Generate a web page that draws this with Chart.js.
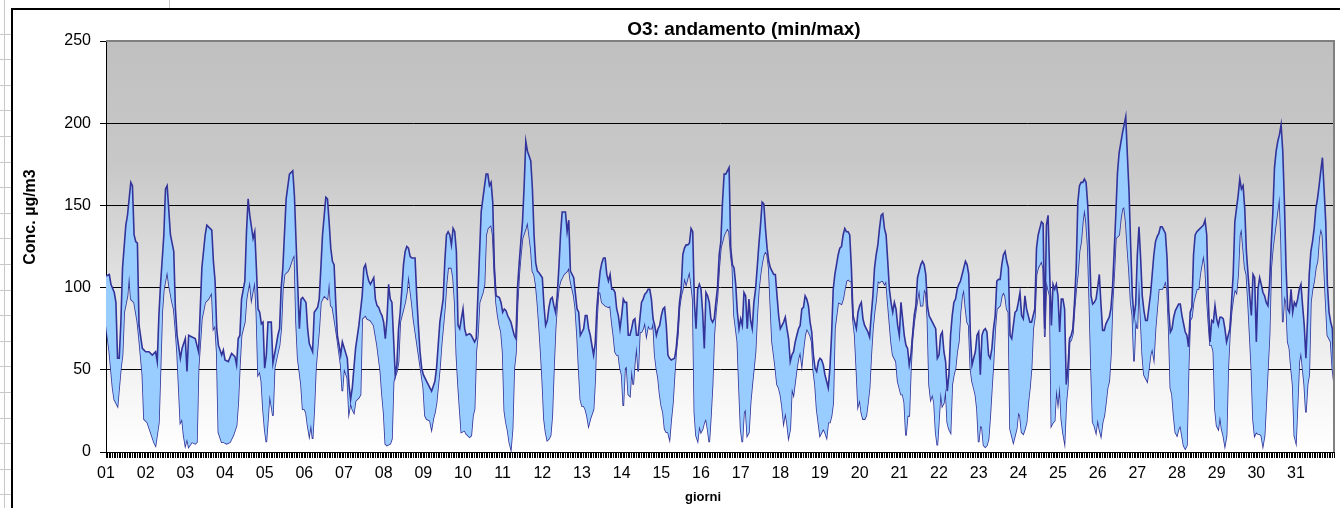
<!DOCTYPE html>
<html>
<head>
<meta charset="utf-8">
<script src="https://cdn.jsdelivr.net/npm/chart.js@4.4.0/dist/chart.umd.min.js"></script>
<style>
  html, body { margin: 0; padding: 0; background: #fff; }
  #wrap { width: 1340px; height: 508px; }
</style>
</head>
<body>
<div id="wrap"><canvas id="chart" width="1340" height="508"></canvas></div>
<script>
// ora del mese (0 = 01 ore 00) e valore massimo orario O3 (µg/m3)
const maxHours = [
  0,2,3,5,6,7,8,9,10,12,13,15,16,17,18,19,20,22,24,26,28,30,31,32,33,35,36,37,39,41,42,43,45,46,48,49,50,52,54,55,56,58,60,61,64,65,66,67,68,70,
  71,72,74,76,78,79,80,81,82,84,85,86,87,89,90,91,92,93,94,95,96,97,98,100,101,103,104,105,106,107,109,111,113,114,115,117,118,119,121,122,123,125,126,128,129,130,131,133,134,135,136,137,138,139,140,142,143,
  146,147,148,149,150,151,153,155,156,157,158,159,160,162,163,164,165,166,167,168,169,170,171,172,173,174,175,176,177,178,179,180,181,182,183,184,185,187,188,189,190,191,192,194,196,197,199,200,202,204,205,206,207,208,209,210,211,212,213,214,215,216,217,218,220,
  221,222,223,224,225,227,228,230,231,232,233,234,235,236,238,239,240,241,242,243,245,246,247,248,249,250,251,252,253,254,255,256,257,258,259,260,261,262,264,265,266,267,268,269,270,271,272,273,274,275,276,278,279,280,281,283,285,286,287,288,289,290,291,292,293,295,
  296,297,298,299,300,301,302,303,304,305,306,307,308,309,310,311,312,313,314,315,316,317,318,319,320,321,322,323,324,325,326,327,328,329,330,331,332,333,334,335,336,337,338,339,340,341,342,
  344,345,346,347,348,349,350,351,352,353,354,355,356,357,358,359,360,361,362,363,364,365,366,367,368,369,
  370,371,372,373,374,375,376,377,378,379,380,381,382,383,384,385,386,387,388,389,390,391,392,393,394,395,396,397,398,399,
  400,401,402,403,404,405,406,407,408,409,410,411,412,413,414,415,416,417,418,419,420,421,422,423,424,425,426,427,428,429,
  430,431,432,433,434,435,436,437,438,439,440,441,442,443,444,
  445,446,447,448,449,450,451,452,453,454,455,456,457,458,459,460,461,462,463,464,465,466,467,468,469,470,471,472,473,474,
  475,476,477,478,479,480,481,482,483,484,485,486,487,488,489,490,491,492,493,494,495,496,497,498,499,500,501,502,503,504,
  505,506,507,508,509,510,511,512,513,514,515,516,517,518,519,
  520,521,522,523,524,525,526,527,528,529,530,531,532,533,534,535,536,537,538,539,540,541,542,543,544,545,546,547,548,549,
  550,551,552,553,554,555,556,557,558,559,560,561,562,563,564,565,566,567,568,569,570,571,572,573,574,575,576,577,578,579,
  580,581,582,583,584,585,586,587,588,589,590,591,592,593,594,
  595,596,597,598,599,600,601,602,603,604,605,606,607,608,609,610,611,612,613,614,615,616,617,618,619,620,621,622,623,624,
  625,626,627,628,629,630,631,632,633,634,635,636,637,638,639,640,641,642,643,644,645,646,647,648,649,650,651,652,653,654,
  655,656,657,658,659,660,661,662,663,664,665,666,667,668,
  669,670,671,672,673,674,675,676,677,678,679,680,681,682,683,684,685,686,687,688,689,690,691,692,693,694,695,696,697,698,
  699,700,701,702,703,704,705,706,707,708,709,710,711,712,713,714,715,716,717,718,719,720,721,722,723,724,725,726,727,728,
  729,730,731,732,733,734,735,736,737,738,739,740,741,742,743
];
const maxVals = [
  107,108,102,97,91,57,57,79,112,138,144,164,162,132,128,127,77,63,61,61,59,61,55,83,102,132,160,162,132,122,87,71,57,63,69,49,71,70,69,65,61,112,132,138,135,116,104,75,65,59,
  62,56,55,60,58,53,69,71,93,104,134,154,144,130,134,112,87,85,78,79,51,59,79,79,54,65,71,75,100,112,154,169,171,156,128,75,93,94,91,75,66,61,85,88,93,112,132,155,154,140,124,116,114,91,71,59,67,
  57,41,32,39,51,63,77,95,112,114,108,104,102,106,93,89,88,85,83,79,69,81,102,93,91,69,47,53,75,85,99,114,122,125,124,119,118,118,95,77,61,51,47,43,39,37,43,51,79,93,116,132,134,132,126,136,134,122,77,75,81,87,75,71,72,
  71,69,67,69,95,146,154,169,169,162,164,152,112,95,94,91,85,87,86,83,79,75,71,69,100,115,128,140,162,189,183,180,177,160,132,115,110,109,106,89,77,80,88,93,94,89,85,95,112,132,146,146,134,141,110,106,87,85,71,73,75,83,83,75,71,59,
  66,88,100,110,115,118,118,108,104,108,99,99,97,87,83,75,83,93,91,91,71,71,75,80,81,71,71,81,91,93,96,97,99,99,93,81,77,71,75,77,83,87,88,77,59,57,56,
  57,63,75,91,99,120,124,126,126,127,136,134,91,75,99,102,99,85,63,97,95,91,81,79,81,91,
  100,120,128,152,169,169,171,173,124,114,112,102,85,75,81,77,97,95,75,93,80,75,91,99,112,126,138,152,151,136,
  124,116,112,110,108,108,95,83,75,77,79,82,75,69,55,59,61,67,71,75,77,87,88,95,93,89,79,73,59,51,
  49,55,57,56,53,47,43,39,51,71,99,108,114,120,124,
  125,132,136,134,134,132,112,83,79,75,85,89,91,81,77,75,73,70,83,95,112,120,126,136,144,145,136,132,116,99,
  91,85,91,87,77,71,91,81,71,65,63,53,59,71,83,89,106,110,114,116,114,108,89,83,81,79,77,75,57,59,
  71,73,61,55,37,47,71,83,91,93,99,102,104,108,112,
  116,114,108,71,53,57,61,71,73,47,71,74,75,73,59,57,63,75,83,104,105,105,114,120,122,116,112,71,69,77,
  85,86,91,97,83,81,95,87,83,79,79,83,87,124,132,136,140,139,75,138,144,108,77,102,99,102,95,73,93,93,
  87,41,51,69,71,75,91,112,152,162,164,164,166,164,150,
  125,95,90,91,93,100,108,90,74,74,78,80,82,87,100,122,145,170,182,188,194,199,204,180,158,125,95,82,90,120,
  137,118,95,86,80,80,88,96,108,120,128,131,133,137,137,135,133,118,86,73,75,82,86,88,90,90,83,78,73,71,
  64,85,88,120,132,134,135,136,137,138,141,132,91,67,
  80,79,89,81,77,82,82,81,75,67,71,75,91,108,140,148,156,166,160,162,148,122,108,95,83,108,106,67,99,106,
  102,97,95,91,89,102,126,146,173,183,189,193,199,183,152,112,87,85,99,85,91,89,93,99,102,89,77,57,81,108,
  122,128,136,148,154,162,171,179,160,140,102,85,79,75,44
];

// ora del mese e valore minimo orario O3 (µg/m3)
const minHours = [
  0,2,4,5,7,9,10,11,13,14,15,17,19,20,22,23,25,27,29,30,32,33,34,35,37,38,40,41,42,43,45,46,47,48,49,50,52,54,55,56,58,60,62,64,65,66,67,68,70,
  71,73,75,77,79,80,81,82,84,85,86,87,88,90,91,92,93,94,95,96,97,98,99,101,102,103,105,106,107,108,110,111,113,114,115,116,118,119,120,121,122,123,124,125,126,127,129,130,132,134,135,136,137,139,140,142,143,144,
  146,147,148,149,150,151,153,154,155,157,158,160,162,163,164,166,167,168,169,170,172,173,174,176,177,178,180,181,182,183,184,185,186,188,190,192,193,194,196,197,198,199,200,202,203,205,206,207,209,210,211,212,213,214,215,217,218,220,
  221,222,223,224,225,226,228,229,230,231,232,233,234,235,236,237,238,239,240,241,242,243,244,245,246,247,248,249,250,251,252,254,255,256,257,258,259,260,261,262,263,264,265,266,267,268,269,270,271,272,273,274,275,276,277,279,280,281,283,284,285,286,287,288,289,290,291,292,293,295,
  296,297,298,299,300,302,
  304,305,306,307,308,309,310,311,312,313,314,315,316,317,318,319,320,321,322,323,324,325,326,327,328,329,330,331,332,333,
  334,335,336,337,338,339,340,341,342,343,344,345,346,347,348,349,350,351,352,353,354,355,356,357,358,359,360,361,362,363,
  364,365,366,367,368,369,
  370,371,372,373,374,375,376,377,378,379,380,381,382,383,384,385,386,387,388,389,390,391,392,393,394,395,396,397,398,399,
  400,401,402,403,404,405,406,407,408,409,410,411,412,413,414,415,416,417,418,419,420,421,422,423,424,425,426,427,428,429,
  430,431,432,433,434,435,436,437,438,439,440,441,442,443,
  445,446,447,448,449,450,451,452,453,454,455,456,457,458,459,460,461,462,463,464,465,466,467,468,469,470,471,472,473,474,
  475,476,477,478,479,480,481,482,483,484,485,486,487,488,489,490,491,492,493,494,495,496,497,498,499,500,501,502,503,504,
  505,506,507,508,509,510,511,512,513,514,515,516,517,518,519,
  520,521,522,523,524,525,526,527,528,529,530,531,532,533,534,535,536,537,538,539,540,541,542,543,544,545,546,547,548,549,
  550,551,552,553,554,555,556,557,558,559,560,561,562,563,564,565,566,567,568,569,570,571,572,573,574,575,576,577,578,579,
  580,581,582,583,584,585,586,587,588,589,590,591,592,593,594,
  595,596,597,598,599,600,601,602,603,604,605,606,607,608,609,610,611,612,613,614,615,616,617,618,619,620,621,622,623,624,
  625,626,627,628,629,630,631,632,633,634,635,636,637,638,639,640,641,642,643,644,645,646,647,648,649,650,651,652,653,654,
  655,656,657,658,659,660,661,662,663,664,665,666,667,668,
  669,670,671,672,673,674,675,676,677,678,679,680,681,682,683,684,685,686,687,688,689,690,691,692,693,694,695,696,697,698,
  699,700,701,702,703,704,705,706,707,708,709,710,711,712,713,714,715,716,717,718,719,720,721,722,723,724,725,726,727,728,
  729,730,731,732,733,734,735,736,737,738,739,740,741,742,743
];
const minVals = [
  77,61,39,32,28,51,59,85,95,108,93,91,79,69,47,20,18,12,6,4,18,51,85,99,110,102,91,87,75,61,18,20,10,4,8,3,6,5,6,51,81,91,93,97,75,77,61,12,6,
  6,5,6,10,16,30,53,71,79,93,99,104,93,104,85,47,49,43,26,14,6,20,35,22,51,56,65,75,99,108,110,112,118,120,79,57,41,26,26,24,16,10,17,8,26,51,75,91,95,93,104,89,88,75,68,53,37,51,
  45,24,30,26,24,31,33,35,81,83,81,80,77,71,65,49,35,24,5,4,5,8,43,49,55,79,87,91,97,108,99,91,81,67,53,39,22,20,19,14,20,24,30,51,65,87,102,112,112,106,91,59,41,26,12,13,11,9,
  10,22,26,61,71,91,97,102,132,136,137,138,132,108,91,83,77,73,61,25,18,13,6,2,14,51,60,90,108,120,130,136,140,132,124,110,108,102,91,77,61,43,20,12,7,8,10,22,51,75,90,100,104,106,108,110,112,104,95,87,71,51,32,28,28,26,22,16,20,26,
  45,80,97,97,91,89,
  88,89,79,71,61,59,59,51,47,28,51,52,35,34,51,41,55,65,49,73,73,75,79,71,77,75,75,79,59,51,
  45,35,28,24,14,12,12,8,20,30,47,61,71,88,95,99,106,102,106,110,102,93,24,10,7,16,12,14,18,20,
  14,6,22,41,71,85,
  95,112,124,128,132,134,136,134,120,112,83,75,67,39,14,6,24,26,10,12,30,41,51,61,83,99,108,115,120,122,
  120,112,89,67,59,51,41,39,35,28,18,24,18,9,14,39,35,43,51,57,61,53,63,71,75,73,71,67,49,41,
  26,18,10,12,14,12,9,18,18,22,30,75,83,91,
  90,93,99,104,105,104,104,80,71,51,28,32,24,20,20,22,30,39,59,75,85,93,104,103,104,104,102,104,91,79,
  67,59,57,55,43,39,35,35,30,10,22,22,51,69,79,86,93,99,89,89,99,97,81,41,32,35,30,12,4,20,
  37,28,30,39,18,14,12,41,47,51,61,67,85,95,99,
  88,79,77,51,43,39,35,26,6,16,15,4,3,4,8,22,39,55,75,87,88,89,95,97,95,87,85,14,10,6,
  10,14,24,22,12,11,14,18,30,39,51,75,82,108,112,114,116,112,70,104,99,95,16,18,19,39,30,41,20,12,
  6,30,41,67,68,72,87,99,108,122,128,140,148,140,125,
  90,51,18,16,12,20,14,10,18,22,30,39,43,59,91,108,130,131,132,142,148,149,140,124,110,91,83,55,81,75,
  106,81,59,47,45,43,51,59,63,57,75,87,99,99,99,101,104,99,75,39,35,22,12,10,14,16,10,4,2,4,
  51,80,82,91,95,99,99,108,114,120,112,95,79,65,
  65,61,26,16,14,22,14,10,4,10,51,72,85,93,99,97,108,132,136,124,112,108,91,71,51,20,10,12,11,11,
  10,4,10,30,51,71,112,124,132,140,148,156,128,79,95,91,67,63,51,41,10,6,30,55,61,51,41,24,41,47,
  91,99,104,112,116,130,136,132,112,91,71,69,67,51,42
];

const dayLabels = ['01','02','03','04','05','06','07','08','09','10','11','12','13','14','15','16',
  '17','18','19','20','21','22','23','24','25','26','27','28','29','30','31'];

const yMax = 250;
const yStep = 50;
const lastHour = 743;

const FONT = '"Liberation Sans", Arial, sans-serif';

const toPoints = (hrs, vals) => vals.map((v, i) => ({ x: hrs[i], y: v }));

// sfondo foglio + area grafico con sfumatura
const backgroundPlugin = {
  id: 'background',
  beforeDraw(chart) {
    const ctx = chart.ctx;
    const a = chart.chartArea;
    ctx.save();
    ctx.fillStyle = '#fff';
    ctx.fillRect(0, 0, chart.width, chart.height);

    // griglia del foglio Excel dietro il grafico
    ctx.strokeStyle = '#c8c8c8';
    ctx.lineWidth = 1;
    ctx.beginPath();
    ctx.moveTo(4.5, 0); ctx.lineTo(4.5, chart.height);
    for (let y = 33.5; y < chart.height; y += 25.6) {
      ctx.moveTo(0, Math.round(y) + 0.5); ctx.lineTo(11, Math.round(y) + 0.5);
    }
    ctx.moveTo(169.5, 0); ctx.lineTo(169.5, 8);
    ctx.stroke();

    // bordo dell'oggetto grafico
    ctx.strokeStyle = '#000';
    ctx.lineWidth = 2;
    ctx.beginPath();
    ctx.moveTo(12, chart.height + 2);
    ctx.lineTo(12, 9);
    ctx.lineTo(chart.width + 2, 9);
    ctx.stroke();

    const g = ctx.createLinearGradient(0, a.top, 0, a.bottom);
    g.addColorStop(0, '#c0c0c0');
    g.addColorStop(0.3, '#c8c8c8');
    g.addColorStop(0.55, '#dedede');
    g.addColorStop(0.8, '#f2f2f2');
    g.addColorStop(1, '#ffffff');
    ctx.fillStyle = g;
    ctx.fillRect(a.left, a.top, a.right - a.left, a.bottom - a.top);
    ctx.restore();
  },
  afterDraw(chart) {
    const ctx = chart.ctx;
    const a = chart.chartArea;
    ctx.save();
    // bordo superiore e destro dell'area del tracciato
    ctx.strokeStyle = '#808080';
    ctx.lineWidth = 2;
    ctx.beginPath();
    ctx.moveTo(a.left, a.top);
    ctx.lineTo(a.right, a.top);
    ctx.lineTo(a.right, a.bottom);
    ctx.stroke();

    ctx.fillStyle = '#000';
    ctx.textAlign = 'center';
    ctx.textBaseline = 'middle';
    ctx.font = 'bold 19px ' + FONT;
    ctx.fillText('O3: andamento (min/max)', 744, 30);

    ctx.font = 'bold 13px ' + FONT;
    ctx.fillText('giorni', 703, 497);

    ctx.translate(31, 217);
    ctx.rotate(-Math.PI / 2);
    ctx.font = 'bold 16px ' + FONT;
    ctx.fillText('Conc. µg/m3', 0, 0);
    ctx.restore();
  }
};

new Chart(document.getElementById('chart'), {
  type: 'line',
  data: {
    datasets: [
      {
        label: 'max',
        data: toPoints(maxHours, maxVals),
        borderColor: '#333399',
        borderWidth: 1.6,
        backgroundColor: '#99ccff',
        fill: '+1',
        pointRadius: 0,
        tension: 0
      },
      {
        label: 'min',
        data: toPoints(minHours, minVals),
        borderColor: '#333399',
        borderWidth: 1.6,
        fill: false,
        pointRadius: 0,
        tension: 0
      }
    ]
  },
  options: {
    responsive: false,
    animation: false,
    devicePixelRatio: 1,
    layout: { padding: { top: 41, right: 2, left: 0, bottom: 0 } },
    plugins: {
      legend: { display: false },
      tooltip: { enabled: false },
      title: { display: false }
    },
    scales: {
      x: {
        type: 'linear',
        min: 0,
        max: lastHour,
        afterFit: s => { s.height = 56; },
        border: { color: '#000', width: 1 },
        grid: { drawOnChartArea: false, drawTicks: true, tickLength: 6, color: '#000', tickColor: '#000' },
        ticks: {
          stepSize: 1,
          autoSkip: false,
          maxRotation: 0,
          minRotation: 0,
          padding: 6,
          color: '#000',
          font: { family: FONT, size: 16 },
          callback: v => (v % 24 === 0 ? dayLabels[v / 24] : '')
        }
      },
      y: {
        min: 0,
        max: yMax,
        afterFit: s => { s.width = 106; },
        border: { color: '#000', width: 1 },
        grid: {
          color: ctx => (ctx.tick && ctx.tick.value === yMax ? 'rgba(0,0,0,0)' : '#000'),
          tickColor: '#000',
          tickLength: 6,
          lineWidth: 1
        },
        ticks: {
          stepSize: yStep,
          padding: 9,
          color: '#000',
          font: { family: FONT, size: 16 }
        }
      }
    }
  },
  plugins: [backgroundPlugin]
});
</script>
</body>
</html>
